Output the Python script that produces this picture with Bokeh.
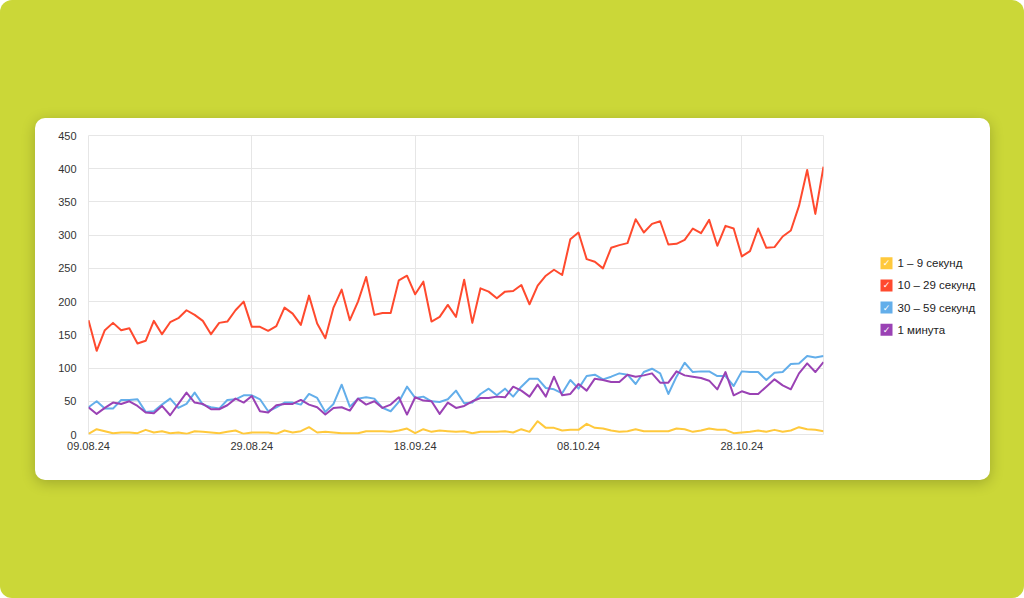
import pandas as pd
from bokeh.plotting import figure
from bokeh.layouts import column, row
from bokeh.models import Range1d, FixedTicker, DatetimeTickFormatter, ColumnDataSource
from bokeh.core.properties import value
from bokeh.embed import file_html
from bokeh.resources import INLINE

start_date = "2024-08-09"
n_days = 91
tick_dates = ["2024-08-09", "2024-08-29", "2024-09-18", "2024-10-08", "2024-10-28"]
series_names = ["1 – 9 секунд", "10 – 29 секунд", "30 – 59 секунд", "1 минута"]
series_colors = ["#FFC93C", "#FF4A2E", "#63AEEA", "#9A42B4"]

s_1_9 = [1, 8, 5, 2, 3, 3, 2, 7, 3, 5, 2, 3, 1, 5, 4, 3, 2, 4, 6, 1, 3, 3, 3, 1, 6, 3, 5, 11, 3, 4,
         3, 2, 2, 2, 5, 5, 5, 4, 6, 9, 2, 8, 4, 6, 5, 4, 5, 2, 4, 4, 4, 5, 3, 8, 4, 20, 10, 10, 6, 7,
         7, 16, 10, 9, 6, 4, 5, 8, 5, 5, 5, 5, 9, 8, 4, 6, 9, 7, 7, 2, 3, 4, 6, 4, 7, 4, 6, 11, 8, 7, 5]
s_10_29 = [172, 126, 157, 168, 157, 160, 137, 141, 171, 151, 169, 175, 187, 180, 171, 151, 168, 170, 187, 200,
           162, 162, 156, 163, 191, 182, 165, 209, 167, 145, 191, 218, 172, 200, 237, 180, 183, 183, 232, 239,
           211, 230, 170, 177, 195, 177, 233, 168, 220, 215, 205, 215, 216, 225, 196, 224, 239, 248, 240, 294,
           304, 264, 260, 250, 281, 285, 288, 324, 304, 317, 321, 286, 287, 293, 310, 303, 323, 284, 314, 310,
           268, 276, 310, 281, 282, 298, 307, 344, 398, 332, 403]
s_30_59 = [41, 50, 39, 39, 52, 52, 53, 34, 35, 45, 54, 40, 46, 63, 45, 41, 39, 52, 53, 59,
           59, 53, 35, 41, 48, 48, 45, 61, 55, 34, 46, 75, 42, 54, 56, 54, 40, 35, 49, 72,
           55, 57, 50, 49, 53, 66, 47, 48, 61, 69, 59, 69, 57, 72, 84, 84, 70, 68, 62, 82,
           69, 88, 90, 83, 87, 92, 90, 76, 94, 99, 92, 61, 87, 108, 94, 95, 95, 88, 88, 73,
           95, 94, 94, 82, 93, 94, 106, 107, 118, 116, 118]
s_1min = [41, 31, 40, 48, 46, 50, 43, 33, 32, 43, 29, 46, 63, 48, 46, 38, 38, 44, 54, 48,
          58, 35, 33, 44, 46, 46, 52, 45, 41, 30, 40, 41, 36, 54, 45, 50, 40, 45, 56, 30,
          56, 51, 50, 31, 48, 40, 43, 50, 55, 55, 57, 56, 72, 66, 57, 75, 57, 87, 59, 61,
          76, 66, 84, 82, 79, 79, 90, 87, 89, 92, 78, 78, 95, 89, 87, 85, 81, 68, 94, 59,
          65, 61, 61, 72, 83, 74, 68, 92, 107, 94, 109]

dates = pd.date_range(start_date, periods=n_days, freq="D")
src = ColumnDataSource(dict(date=dates, a=s_1_9, b=s_10_29, c=s_30_59, d=s_1min))

# ---- main chart ----
p = figure(width=790, height=362, x_axis_type="datetime", output_backend="svg",
           toolbar_location=None,
           x_range=Range1d(dates[0], dates[-1]), y_range=Range1d(0, 450),
           min_border_left=53, min_border_right=2, min_border_top=17, min_border_bottom=46)
p.border_fill_color = None
p.background_fill_color = "white"
p.outline_line_color = "#e6e6e6"

tick_ms = [pd.Timestamp(d).value // 10**6 for d in tick_dates]
p.xaxis.ticker = FixedTicker(ticks=tick_ms)
fmt = "%d.%m.%y"
p.xaxis.formatter = DatetimeTickFormatter(days=fmt, months=fmt, years=fmt, hours=fmt,
                                          minutes=fmt, seconds=fmt, milliseconds=fmt,
                                          minsec=fmt, hourmin=fmt)
p.yaxis.ticker = FixedTicker(ticks=list(range(0, 451, 50)))

for ax in (p.xaxis, p.yaxis):
    ax.axis_line_color = None
    ax.major_tick_line_color = None
    ax.minor_tick_line_color = None
    ax.major_tick_out = 0
    ax.major_label_text_font = "Liberation Sans"
    ax.major_label_text_font_size = "11px"
    ax.major_label_text_color = "#333333"
p.yaxis.major_label_standoff = 12
p.xaxis.major_label_standoff = 7

p.xgrid.ticker = FixedTicker(ticks=tick_ms)
p.ygrid.ticker = FixedTicker(ticks=list(range(0, 451, 50)))
p.grid.grid_line_color = "#e6e6e6"
p.grid.grid_line_width = 1

for col, color in zip(["a", "b", "c", "d"], series_colors):
    p.line("date", col, source=src, line_color=color, line_width=2, line_join="round")

# ---- legend panel (its frame is aligned with the chart frame: 299 px tall) ----
lg = figure(width=165, height=362, output_backend="svg", toolbar_location=None,
            x_range=Range1d(0, 165), y_range=Range1d(299, 0),
            x_axis_location=None, y_axis_location=None,
            min_border=0, min_border_left=0, min_border_right=0,
            min_border_top=17, min_border_bottom=46)
lg.border_fill_color = None
lg.background_fill_color = None
lg.outline_line_color = None
lg.grid.visible = False

first_y, step_y = 127.7, 22.2
ys = [first_y + i * step_y for i in range(len(series_names))]
box_x = 61
lsrc = ColumnDataSource(dict(y=ys, name=series_names, color=series_colors,
                             check=["✓"] * len(series_names)))
lg.rect(x=box_x, y="y", width=12, height=12, fill_color="color", line_color=None, source=lsrc)
lg.text(x=box_x, y="y", text="check", text_align="center", text_baseline="middle",
        text_color="white", text_font_size="9px", text_font_style="bold",
        text_font=value("DejaVu Sans"), source=lsrc)
lg.text(x=box_x + 11, y="y", text="name", text_align="left", text_baseline="middle",
        text_color="#222222", text_font_size="11.5px",
        text_font=value("Liberation Sans"), source=lsrc)

card = row(p, lg, spacing=0,
           styles={"background-color": "white", "border-radius": "10px",
                   "box-shadow": "0 3px 14px rgba(0,0,0,0.22)"})
card.margin = (118, 0, 0, 35)

root = column(card, width=1024, height=598,
              styles={"background-color": "#CBD738", "border-radius": "12px"})

open("out.html", "w").write(file_html(root, INLINE))
